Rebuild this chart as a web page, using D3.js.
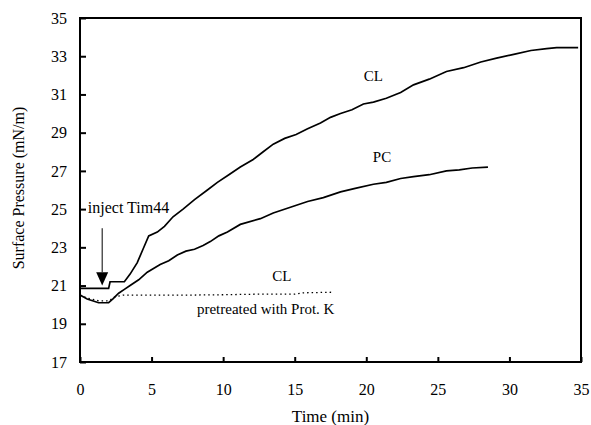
<!DOCTYPE html>
<html>
<head>
<meta charset="utf-8">
<script src="https://cdn.jsdelivr.net/npm/d3@7"></script>
<style>
  body { margin: 0; background: #fff; }
  text { font-family: "Liberation Serif", "Times New Roman", serif; fill: #000; }
</style>
</head>
<body>
<div id="chart"></div>
<script>
// time (min) and surface pressure (mN/m)
var clTime = [0, 2.0, 2.1, 3.1, 3.5, 4.0, 4.4, 4.8, 5.4, 5.9, 6.5, 7.2, 8.0, 8.9, 9.6, 10.4, 11.2, 12.1, 12.8, 13.5, 14.3, 15.1, 15.9, 16.8, 17.5, 18.2, 19.0, 19.8, 20.5, 21.4, 22.4, 23.3, 24.4, 25.6, 26.8, 28.0, 29.1, 30.3, 31.5, 32.6, 33.3, 34.8];
var clValue = [20.85, 20.85, 21.2, 21.2, 21.6, 22.2, 22.9, 23.6, 23.8, 24.1, 24.6, 25.0, 25.5, 26.0, 26.4, 26.8, 27.2, 27.6, 28.0, 28.4, 28.7, 28.9, 29.2, 29.5, 29.8, 30.0, 30.2, 30.5, 30.6, 30.8, 31.1, 31.5, 31.8, 32.2, 32.4, 32.7, 32.9, 33.1, 33.3, 33.4, 33.45, 33.45];

var pcTime = [0, 0.5, 1.3, 2.0, 2.3, 2.7, 3.1, 3.5, 4.1, 4.7, 5.6, 6.2, 6.8, 7.4, 8.0, 8.6, 9.1, 9.7, 10.3, 11.2, 12.6, 13.5, 14.7, 15.9, 17.0, 18.2, 19.3, 20.5, 21.4, 22.4, 23.3, 24.4, 25.6, 26.5, 27.4, 28.5];
var pcValue = [20.5, 20.3, 20.1, 20.1, 20.3, 20.6, 20.8, 21.0, 21.3, 21.7, 22.1, 22.3, 22.6, 22.8, 22.9, 23.1, 23.3, 23.6, 23.8, 24.2, 24.5, 24.8, 25.1, 25.4, 25.6, 25.9, 26.1, 26.3, 26.4, 26.6, 26.7, 26.8, 27.0, 27.05, 27.15, 27.2];

var pkTime = [0, 0.5, 1.3, 2.0, 2.4, 3.0, 5, 7.5, 10, 12.5, 15.0, 15.6, 17.6];
var pkValue = [20.5, 20.35, 20.2, 20.2, 20.4, 20.5, 20.5, 20.5, 20.52, 20.55, 20.55, 20.62, 20.65];

var xTicks = [0, 5, 10, 15, 20, 25, 30, 35];
var yTicks = [17, 19, 21, 23, 25, 27, 29, 31, 33, 35];

var injectTime = 1.55;

var svgWidth = 591, svgHeight = 425;
var margin = {top: 18, right: 10, bottom: 63, left: 80};
var width = svgWidth - margin.left - margin.right;
var height = svgHeight - margin.top - margin.bottom;

var svg = d3.select("#chart").append("svg")
    .attr("width", svgWidth)
    .attr("height", svgHeight);

var chartGroup = svg.append("g")
    .attr("transform", `translate(${margin.left}, ${margin.top})`);

var xScale = d3.scaleLinear().domain([0, 35]).range([0, width]);
var yScale = d3.scaleLinear().domain([17, 35]).range([height, 0]);

// axes with inward ticks
var xAxis = d3.axisBottom(xScale).tickValues(xTicks).tickSize(-5).tickPadding(22).tickSizeOuter(0);
var yAxis = d3.axisLeft(yScale).tickValues(yTicks).tickSize(-6).tickPadding(13).tickSizeOuter(0);

var gx = chartGroup.append("g")
    .attr("transform", `translate(0, ${height})`)
    .call(xAxis);
var gy = chartGroup.append("g").call(yAxis);

[gx, gy].forEach(function(g) {
    g.select(".domain").remove();
    g.selectAll("line").attr("stroke", "#000").attr("stroke-width", 2);
    g.selectAll("text").style("font-size", "16px")
        .style("font-family", "'Liberation Serif', 'Times New Roman', serif");
});

// frame
chartGroup.append("rect")
    .attr("x", 0).attr("y", 0)
    .attr("width", width).attr("height", height)
    .attr("fill", "none")
    .attr("stroke", "#000")
    .attr("stroke-width", 2);

var line = d3.line()
    .x(d => xScale(d[0]))
    .y(d => yScale(d[1]));

function pairs(t, v) { return t.map((d, i) => [d, v[i]]); }

chartGroup.append("path")
    .datum(pairs(clTime, clValue))
    .attr("d", line)
    .attr("fill", "none").attr("stroke", "#000").attr("stroke-width", 1.7);

chartGroup.append("path")
    .datum(pairs(pcTime, pcValue))
    .attr("d", line)
    .attr("fill", "none").attr("stroke", "#000").attr("stroke-width", 1.7);

chartGroup.append("path")
    .datum(pairs(pkTime, pkValue))
    .attr("d", line)
    .attr("fill", "none").attr("stroke", "#000").attr("stroke-width", 1.3)
    .attr("stroke-dasharray", "1.5,3");

// injection arrow
var ax = xScale(injectTime);
chartGroup.append("line")
    .attr("x1", ax).attr("x2", ax)
    .attr("y1", yScale(24.0)).attr("y2", yScale(21.7))
    .attr("stroke", "#000").attr("stroke-width", 1);
chartGroup.append("path")
    .attr("d", `M${ax - 6},${yScale(21.7)} L${ax + 6},${yScale(21.7)} L${ax},${yScale(21.0)} Z`)
    .attr("fill", "#000");

function label(txt, t, v, size, anchor) {
    chartGroup.append("text")
        .attr("x", xScale(t)).attr("y", yScale(v))
        .attr("text-anchor", anchor || "middle")
        .attr("dominant-baseline", "middle")
        .style("font-size", size + "px")
        .text(txt);
}

label("inject Tim44", 0.55, 25.0, 16, "start");
label("CL", 20.5, 31.9, 15);
label("PC", 21.1, 27.65, 15);
label("CL", 14.1, 21.4, 15);
label("pretreated with Prot. K", 12.97, 19.68, 15);

// axis titles
svg.append("text")
    .attr("x", margin.left + width / 2)
    .attr("y", 422)
    .attr("text-anchor", "middle")
    .style("font-size", "17px")
    .text("Time (min)");

svg.append("text")
    .attr("transform", `translate(24, ${188}) rotate(-90)`)
    .attr("text-anchor", "middle")
    .style("font-size", "16px")
    .text("Surface Pressure (mN/m)");
</script>
</body>
</html>
